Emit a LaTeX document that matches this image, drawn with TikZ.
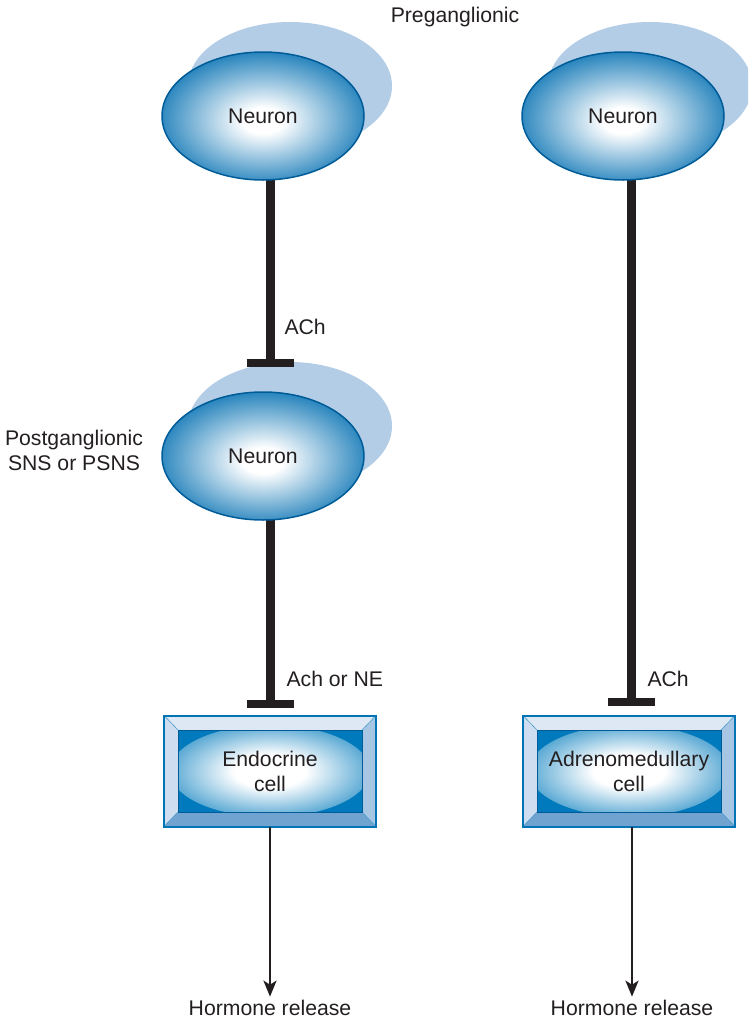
\documentclass[tikz,border=0pt]{standalone}
\usepackage{fontspec}
\setmainfont{Liberation Sans}
\usetikzlibrary{shapes.geometric,arrows.meta}

\definecolor{somablue}{RGB}{4,112,178}
\definecolor{somaedge}{RGB}{0,92,152}
\definecolor{shadowblue}{RGB}{180,205,230}
\definecolor{coreblue}{RGB}{0,122,188}
\definecolor{rimblue}{RGB}{0,116,180}
\definecolor{beveltop}{RGB}{221,232,244}
\definecolor{bevelleft}{RGB}{206,222,240}
\definecolor{bevelright}{RGB}{166,198,228}
\definecolor{bevelbottom}{RGB}{112,163,207}
\definecolor{ink}{RGB}{35,31,32}

\pgfdeclareradialshading{somaglow}{\pgfpoint{0bp}{-2bp}}{%
  color(0bp)=(white); color(5bp)=(white); color(16bp)=(somablue!45);
  color(27bp)=(somablue!90); color(33bp)=(somablue); color(50bp)=(somablue)}
\pgfdeclareradialshading{coreglow}{\pgfpoint{0bp}{0bp}}{%
  color(0bp)=(white); color(9bp)=(white); color(34bp)=(coreblue); color(50bp)=(coreblue)}

\tikzset{
  neuron/.style={ellipse, shading=somaglow, draw=somaedge, line width=1.5pt,
    minimum width=202pt, minimum height=128pt, inner sep=0pt, text=ink},
  shadow/.style={ellipse, fill=shadowblue, minimum width=204pt, minimum height=128pt},
  axon/.style={draw=ink, line width=9pt},
  synbar/.style={draw=ink, line width=8pt},
  cellrim/.style={rectangle, minimum width=212pt, minimum height=111pt, outer sep=0pt, inner sep=0pt},
  cellcore/.style={rectangle, minimum width=184pt, minimum height=82pt, outer sep=0pt, inner sep=0pt,
    fill=coreblue, path picture={\shade[shading=coreglow]
      (path picture bounding box.center) ellipse (100pt and 46pt);}},
  rimline/.style={draw=rimblue, line width=2pt},
  coreline/.style={draw=somaedge, line width=1pt},
  label/.style={text=ink, align=center},
  release/.style={draw=ink, line width=2.5pt, -{Stealth[length=16pt,width=13pt,inset=4pt]}}
}

\begin{document}
\begin{tikzpicture}[x=1pt,y=-1pt,font=\fontsize{21.2}{25}\selectfont]
	\clip (0,0) rectangle (748,1023);
	\path 	(263,116) coordinate (somaA) (623,116) coordinate (somaC)
			(263,456) coordinate (somaB)
			(270,363) coordinate (synA) (270,704) coordinate (synB) (631,702) coordinate (synC)
			(270,771) coordinate (endoA) (629,771) coordinate (endoC);

	% pale halo behind each cell body
	\foreach \s in {somaA,somaB,somaC}
		\node[shadow] at ([shift={(27,-30)}]\s) {};

	% axons ending in a synaptic bar
	\draw[axon] (synA |- somaA) -- (synA);
	\draw[axon] (synB |- somaB) -- (synB);
	\draw[axon] (synC |- somaC) -- (synC);
	\foreach \s in {synA,synB,synC}
		\draw[synbar] ([xshift=-23.5]\s) -- ([xshift=23.5]\s);

	\node[neuron] (neuronA) at (somaA) {Neuron};
	\node[neuron] (neuronB) at (somaB) {Neuron};
	\node[neuron] (neuronC) at (somaC) {Neuron};

	% bevelled target cells
	\foreach \b in {endoA,endoC}{
		\node[cellrim] (\b-out) at (\b) {};
		\node[cellcore] (\b-in) at (\b) {};
		\fill[beveltop] (\b-out.north west) -- (\b-out.north east) -- (\b-in.north east) -- (\b-in.north west) -- cycle;
		\fill[bevelleft] (\b-out.north west) -- (\b-in.north west) -- (\b-in.south west) -- (\b-out.south west) -- cycle;
		\fill[bevelright] (\b-out.north east) -- (\b-in.north east) -- (\b-in.south east) -- (\b-out.south east) -- cycle;
		\fill[bevelbottom] (\b-out.south west) -- (\b-in.south west) -- (\b-in.south east) -- (\b-out.south east) -- cycle;
		\draw[draw=rimblue!70, line width=0.6pt]
			(\b-out.north west) -- (\b-in.north west) (\b-out.north east) -- (\b-in.north east)
			(\b-out.south west) -- (\b-in.south west) (\b-out.south east) -- (\b-in.south east);
		\draw[coreline] (\b-in.north west) rectangle (\b-in.south east);
		\draw[rimline] (\b-out.north west) rectangle (\b-out.south east);
	}
	\node[label] (endoA-txt) at (endoA) {Endocrine\\cell};
	\node[label] (endoC-txt) at (endoC) {Adrenomedullary\\cell};

	% labels
	\node[label] (pre) at (455,17) {Preganglionic};
	\node[label] (post) at (74,450) {Postganglionic\\SNS or PSNS};
	\node[label, anchor=west] (achA) at (281,327) {ACh};
	\node[label, anchor=west] (achB) at (283,679) {Ach or NE};
	\node[label, anchor=west] (achC) at (644,679) {ACh};
	\node[label] (hormA) at (270,1008) {Hormone release};
	\node[label] (hormC) at (632,1008) {Hormone release};

	\draw[release] (endoA-out.south) -- (hormA.north);
	\draw[release] (endoC-out.south -| hormC) -- (hormC.north);
\end{tikzpicture}
\end{document}
